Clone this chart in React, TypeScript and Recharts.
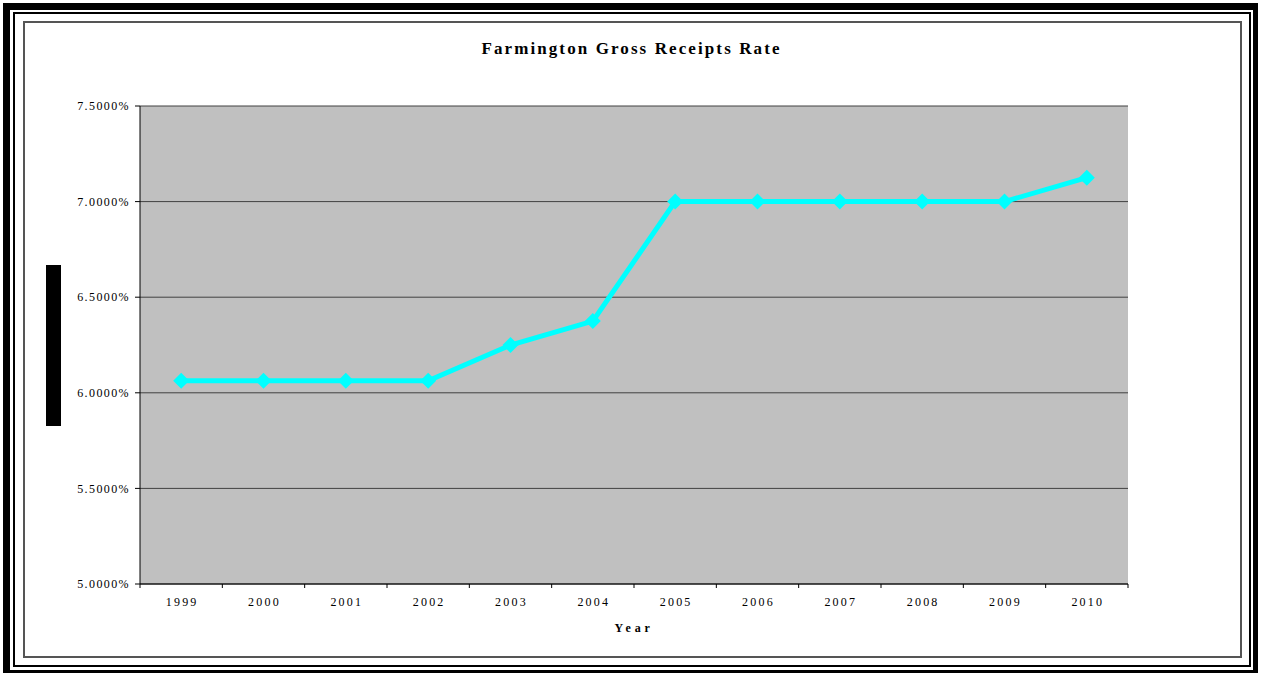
import React from "react";
import { LineChart, Line, XAxis, YAxis, CartesianGrid, Label } from "recharts";

const years = ["1999", "2000", "2001", "2002", "2003", "2004", "2005", "2006", "2007", "2008", "2009", "2010"];
const rates = [6.0625, 6.0625, 6.0625, 6.0625, 6.25, 6.375, 7.0, 7.0, 7.0, 7.0, 7.0, 7.125];
const rateTicks = [5.0, 5.5, 6.0, 6.5, 7.0, 7.5];

const data = years.map((year, i) => ({ year, rate: rates[i] }));

const W = 1263;
const H = 673;
const PLOT_LEFT = 140;
const PLOT_RIGHT = 135;
const plotWidth = W - PLOT_LEFT - PLOT_RIGHT;
const half = plotWidth / years.length / 2;
const serif = "'Liberation Serif', 'Times New Roman', serif";

const YearTick = (props: any) => {
  const { x, y, payload, index } = props;
  return (
    <g>
      <line x1={x - half} x2={x - half} y1={y} y2={y + 4} stroke="#000" />
      {index === years.length - 1 && <line x1={x + half} x2={x + half} y1={y} y2={y + 4} stroke="#000" />}
      <text x={x + 1} y={y + 22} textAnchor="middle" fontSize={12} fontFamily={serif} letterSpacing={2.2} fill="#000">
        {payload.value}
      </text>
    </g>
  );
};

const Diamond = (props: any) => {
  const { cx, cy } = props;
  if (cx == null || cy == null) return null;
  const r = 8;
  return <polygon points={`${cx},${cy - r} ${cx + r},${cy} ${cx},${cy + r} ${cx - r},${cy}`} fill="#00FFFF" />;
};

const box = (left: number, top: number, right: number, bottom: number, border: string): React.CSSProperties => ({
  position: "absolute",
  left,
  top,
  width: right - left,
  height: bottom - top,
  border,
  boxSizing: "border-box",
});

export default function App() {
  return (
    <div style={{ position: "absolute", left: 0, top: 0, width: W, height: H, background: "#fff", overflow: "hidden", fontFamily: serif }}>
      <div style={{ ...box(3, 3, 1258, 675, "none"), borderTop: "7px solid #000", borderLeft: "7px solid #000", borderRight: "5px solid #000", borderBottom: "5px solid #000" }} />
      <div style={box(13, 12, 1251, 667, "2px solid #000")} />
      <div style={box(23, 21, 1242, 658, "2px solid #555")} />
      <div style={{ position: "absolute", left: 46, top: 265, width: 15, height: 161, background: "#000" }} />
      <div
        style={{
          position: "absolute",
          left: 0,
          top: 39,
          width: W,
          textAlign: "center",
          fontWeight: "bold",
          fontSize: 17,
          letterSpacing: 2.1,
          lineHeight: "20px",
        }}
      >
        Farmington Gross Receipts Rate
      </div>
      <div style={{ position: "absolute", left: 0, top: 0 }}>
        <LineChart width={W} height={H} data={data} margin={{ top: 106, right: PLOT_RIGHT, bottom: 29, left: 0 }}>
          <CartesianGrid vertical={false} stroke="#404040" fill="#C0C0C0" />
          <XAxis
            dataKey="year"
            height={60}
            padding={{ left: half, right: half }}
            tickSize={0}
            tickMargin={0}
            tickLine={false}
            axisLine={{ stroke: "#000" }}
            tick={<YearTick />}
            interval={0}
          >
            <Label
              value="Year"
              position="insideBottom"
              offset={12}
              style={{ fontWeight: "bold", fontSize: 12, letterSpacing: 3.8, fontFamily: serif, fill: "#000" }}
            />
          </XAxis>
          <XAxis
            xAxisId="top"
            dataKey="year"
            orientation="top"
            height={0}
            padding={{ left: half, right: half }}
            tick={false}
            tickLine={false}
            axisLine={{ stroke: "#808080" }}
          />
          <YAxis
            width={PLOT_LEFT}
            domain={[5, 7.5]}
            ticks={rateTicks}
            interval={0}
            tickSize={5}
            tickMargin={5}
            tickFormatter={(v: number) => v.toFixed(4) + "%"}
            tick={{ fill: "#000", fontSize: 12, fontFamily: serif, letterSpacing: 1.4 }}
            tickLine={{ stroke: "#000" }}
            axisLine={{ stroke: "#000" }}
          />
          <YAxis
            yAxisId="right"
            orientation="right"
            width={0}
            domain={[5, 7.5]}
            tick={false}
            tickLine={false}
            axisLine={{ stroke: "#808080" }}
          />
          <Line
            type="linear"
            dataKey="rate"
            stroke="#00FFFF"
            strokeWidth={5}
            dot={<Diamond />}
            activeDot={false}
            isAnimationActive={false}
          />
        </LineChart>
      </div>
    </div>
  );
}
